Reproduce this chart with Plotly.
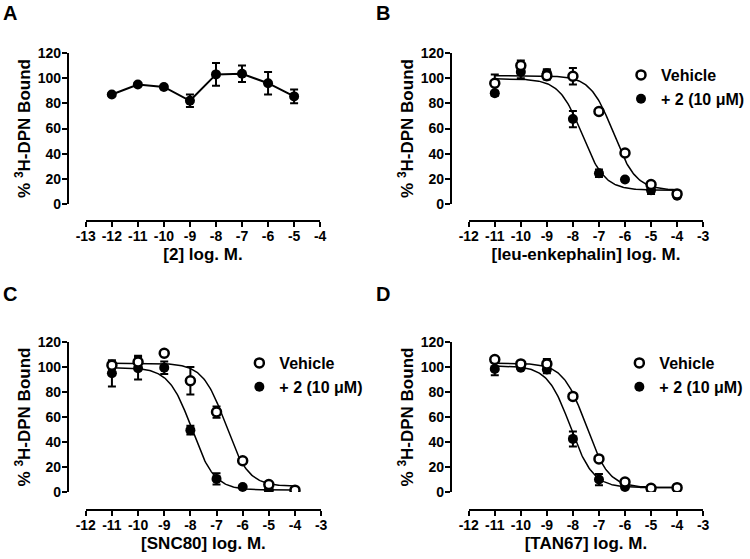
import numpy as np
import plotly.graph_objects as go

# ---- data ----
log_a = [-12, -11, -10, -9, -8, -7, -6, -5]
bound_a = [87, 95, 93, 82, 103, 103.5, 96, 85.5]
err_a = [1, 1, 1, 5, 9, 6.5, 9, 5.5]

log_bcd = [-11, -10, -9, -8, -7, -6, -5, -4]

veh_b = [96, 110, 102, 101.5, 73.5, 40.5, 15.5, 8]
veh_b_err = [7, 4, 3, 6.5, 1.5, 1, 1.5, 1]
drug_b = [88, 105, 104, 67.5, 24.5, 19.5, 11, 6.5]
drug_b_err = [2, 5, 3, 6.5, 3, 1, 3, 1.5]

veh_c = [101.5, 104, 111, 89, 64, 25, 6, 1.5]
veh_c_err = [3, 5, 1, 11, 4.5, 1, 1, 0.5]
drug_c = [95, 99, 99.5, 49.5, 10.5, 4, 1.5, 0.5]
drug_c_err = [10.5, 9, 5, 3.5, 4.5, 1, 1, 0.5]

veh_d = [106, 102.5, 102.5, 76.5, 26.5, 8, 3, 3.5]
veh_d_err = [1, 1, 4, 1, 1, 1, 2, 0.5]
drug_d = [98.5, 99.5, 98, 42.5, 10, 4, 2, 3.5]
drug_d_err = [5, 1, 3, 6, 4.5, 1, 1, 0.5]

# 4-parameter logistic fits (top, bottom, logIC50) as drawn in panels B-D
fit_veh_b = (102, 11, -6.45)
fit_drug_b = (99.5, 11, -7.65)
fit_veh_c = (103, 4.5, -6.65)
fit_drug_c = (99.5, 1.5, -7.95)
fit_veh_d = (103, 3.5, -7.5)
fit_drug_d = (101, 3.5, -8.1)

# tick labels (plain hyphen, as in the original)
ticks_a = list(range(-13, -3))
ticks_bcd = list(range(-12, -2))
y_ticks = [0, 20, 40, 60, 80, 100, 120]

FONT = "Arial, Liberation Sans, sans-serif"
W, H = 750, 559


def fx(px):
    return px / W


def fy(py):
    return 1 - py / H


def curve(params, x):
    top, bottom, ic50 = params
    return bottom + (top - bottom) / (1 + 10 ** (x - ic50))


fig = go.Figure()

# panel geometry in pixels: y-axis x, plot top, plot bottom, x-axis y, x-left, x-right
panels = {
    "": dict(yx=68, top=53, bot=204, xy=221, xl=86, xr=321, ticks=ticks_a, title="[2] log. M."),
    "2": dict(yx=452, top=53, bot=204, xy=221, xl=470, xr=705, ticks=ticks_bcd, title="[leu-enkephalin] log. M."),
    "3": dict(yx=68, top=342, bot=492, xy=510, xl=86, xr=322, ticks=ticks_bcd, title="[SNC80] log. M."),
    "4": dict(yx=452, top=342, bot=492, xy=510, xl=470, xr=705, ticks=ticks_bcd, title="[TAN67] log. M."),
}

for k, p in panels.items():
    tv = p["ticks"]
    fig.layout["xaxis" + k] = dict(
        domain=[fx(p["xl"]), fx(p["xr"])], range=[tv[0], tv[-1]], anchor="free", position=fy(p["xy"]),
        tickvals=tv, ticktext=[str(v) for v in tv], ticklabelstandoff=-3,
        ticks="outside", ticklen=5, tickwidth=2, tickcolor="black",
        showline=True, linewidth=2, linecolor="black", showgrid=False, zeroline=False,
        automargin=False,
        tickfont=dict(family=FONT, size=14, color="black", weight="bold"),
        title=dict(text=p["title"], font=dict(family=FONT, size=17, color="black", weight="bold"), standoff=4),
    )
    fig.layout["yaxis" + k] = dict(
        domain=[fy(p["bot"]), fy(p["top"])], range=[0, 120], anchor="free", position=fx(p["yx"]),
        tickvals=y_ticks, ticklabelstandoff=-2,
        ticks="outside", ticklen=5, tickwidth=2, tickcolor="black",
        showline=True, linewidth=2, linecolor="black", showgrid=False, zeroline=False,
        automargin=False,
        tickfont=dict(family=FONT, size=14, color="black", weight="bold"),
        title=dict(text="% <sup>3</sup>H-DPN Bound", font=dict(family=FONT, size=17, color="black", weight="bold"), standoff=2),
    )

# panel A: connected points
fig.add_trace(go.Scatter(
    x=log_a, y=bound_a, mode="lines+markers", xaxis="x", yaxis="y", showlegend=False,
    line=dict(color="black", width=2), marker=dict(size=10, color="black"),
    error_y=dict(type="data", array=err_a, color="black", thickness=2, width=4),
))

xs = np.linspace(-11, -4, 200)
sets = [
    ("2", veh_b, veh_b_err, drug_b, drug_b_err, fit_veh_b, fit_drug_b, "legend"),
    ("3", veh_c, veh_c_err, drug_c, drug_c_err, fit_veh_c, fit_drug_c, "legend2"),
    ("4", veh_d, veh_d_err, drug_d, drug_d_err, fit_veh_d, fit_drug_d, "legend3"),
]
for k, veh, veh_err, drug, drug_err, fv, fd, leg in sets:
    for prm in (fv, fd):
        fig.add_trace(go.Scatter(
            x=xs, y=curve(prm, xs), mode="lines", xaxis="x" + k, yaxis="y" + k,
            showlegend=False, line=dict(color="black", width=1.5), hoverinfo="skip",
        ))
    fig.add_trace(go.Scatter(
        x=log_bcd, y=drug, mode="markers", name="+ 2 (10 \u03bcM)", xaxis="x" + k, yaxis="y" + k,
        legend=leg, legendrank=2, marker=dict(size=10, color="black"),
        error_y=dict(type="data", array=drug_err, color="black", thickness=2, width=4),
    ))
    fig.add_trace(go.Scatter(
        x=log_bcd, y=veh, mode="markers", name="Vehicle", xaxis="x" + k, yaxis="y" + k,
        legend=leg, legendrank=1, marker=dict(size=9, color="white", line=dict(color="black", width=2.5)),
        error_y=dict(type="data", array=veh_err, color="black", thickness=2, width=4),
    ))

leg_style = dict(font=dict(family=FONT, size=16, color="black", weight="bold"),
                 bgcolor="rgba(0,0,0,0)", tracegroupgap=0, itemclick=False,
                 xanchor="left", yanchor="top")
fig.update_layout(
    legend=dict(x=fx(623), y=fy(58), **leg_style),
    legend2=dict(x=fx(240), y=fy(346), **leg_style),
    legend3=dict(x=fx(621), y=fy(346), **leg_style),
)

for lbl, x, y in [("A", 1, 0), ("B", 375, 0), ("C", 1, 281), ("D", 375, 281)]:
    fig.add_annotation(text=lbl, x=fx(x), y=fy(y), xref="paper", yref="paper",
                       xanchor="left", yanchor="top", showarrow=False,
                       font=dict(family=FONT, size=20, color="black", weight="bold"))

fig.update_layout(
    template="none", width=W, height=H, margin=dict(l=0, r=0, t=0, b=0),
    plot_bgcolor="white", paper_bgcolor="white",
)

# drop the page's default body margin so the figure sits at the window's corner
fig.write_html("out.html", config={"displayModeBar": False},
               post_script="document.body.style.margin='0';")
